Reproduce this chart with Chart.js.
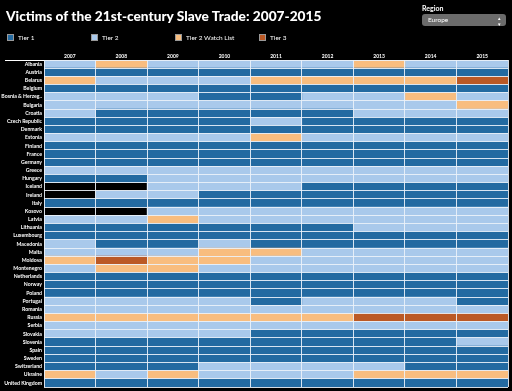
<!DOCTYPE html>
<html>
<head>
<meta charset="utf-8">
<script src="https://cdn.jsdelivr.net/npm/chart.js@4/dist/chart.umd.min.js"></script>
<style>
  html, body { margin:0; padding:0; background:#000; width:512px; height:391px; overflow:hidden; }
  body { position:relative; font-family: Lato, "Open Sans", sans-serif; color:#fff; }
  #title { position:absolute; left:6px; top:7px; font-size:13.7px; font-weight:900; white-space:nowrap; letter-spacing:0px; }
  .leg { position:absolute; top:34px; font-size:6.5px; line-height:7px; white-space:nowrap; }
  .sw { display:inline-block; width:5px; height:5px; border:1px solid #999; vertical-align:top; margin-right:4px; }
  #regLab { position:absolute; left:422px; top:4px; font-size:7px; font-weight:700; }
  #sel { position:absolute; left:422px; top:14px; width:84px; height:12px; background:#6b6b6b; border-radius:3px; font-size:6.5px; line-height:12px; }
  #sel span { position:absolute; left:6px; }
  #sel i { position:absolute; right:5px; top:0; font-style:normal; font-size:5px; line-height:6px; margin-top:1px; }
  #wrap { position:absolute; left:0; top:0; width:512px; height:391px; }
</style>
</head>
<body>
<div id="wrap"><canvas id="c" width="512" height="391"></canvas></div>
<div id="title">Victims of the 21st-century Slave Trade: 2007-2015</div>
<div id="legend"></div>
<div id="regLab">Region</div>
<div id="sel"><span>Europe</span><i>▴<br>▾</i></div>
<script>
const years = ['2007','2008','2009','2010','2011','2012','2013','2014','2015'];
const countries = ['Albania','Austria','Belarus','Belgium','Bosnia & Herzeg..','Bulgaria','Croatia','Czech Republic','Denmark','Estonia','Finland','France','Germany','Greece','Hungary','Iceland','Ireland','Italy','Kosovo','Latvia','Lithuania','Luxembourg','Macedonia','Malta','Moldova','Montenegro','Netherlands','Norway','Poland','Portugal','Romania','Russia','Serbia','Slovakia','Slovenia','Spain','Sweden','Switzerland','Ukraine','United Kingdom'];
const tierNames = ['Tier 1','Tier 2','Tier 2 Watch List','Tier 3'];
const tierColors = ['#236aa1','#a9c9eb','#f8bd7f','#bb5925'];
// tier codes: 1 = Tier 1, 2 = Tier 2, 'W' = Tier 2 Watch List, 3 = Tier 3, null = no data
const tiers = {
  'Albania':           [2,'W',2,2,2,2,'W',2,2],
  'Austria':           [1,1,1,1,1,1,1,1,1],
  'Belarus':           ['W',2,2,2,'W','W','W','W',3],
  'Belgium':           [1,1,1,1,1,1,1,1,1],
  'Bosnia & Herzeg..': [2,2,2,1,1,2,2,'W',2],
  'Bulgaria':          [2,2,2,2,2,2,2,2,'W'],
  'Croatia':           [2,1,1,1,1,1,2,2,2],
  'Czech Republic':    [1,1,1,1,2,1,1,1,1],
  'Denmark':           [1,1,1,1,1,1,1,1,1],
  'Estonia':           [2,2,2,2,'W',2,2,2,2],
  'Finland':           [1,1,1,1,1,1,1,1,1],
  'France':            [1,1,1,1,1,1,1,1,1],
  'Germany':           [1,1,1,1,1,1,1,1,1],
  'Greece':            [2,2,2,2,2,2,2,2,2],
  'Hungary':           [1,1,2,2,2,2,2,2,2],
  'Iceland':           [null,null,2,2,2,1,1,1,1],
  'Ireland':           [null,2,2,1,1,1,1,1,1],
  'Italy':             [1,1,1,1,1,1,1,1,1],
  'Kosovo':            [null,null,2,2,2,2,2,2,2],
  'Latvia':            [2,2,'W',2,2,2,2,2,2],
  'Lithuania':         [1,1,1,1,1,1,2,2,2],
  'Luxembourg':        [1,1,1,1,1,1,1,1,1],
  'Macedonia':         [2,1,1,2,1,1,1,1,1],
  'Malta':             [2,2,2,'W','W',2,2,2,2],
  'Moldova':           ['W',3,'W','W',2,2,2,2,2],
  'Montenegro':        [2,'W','W',2,2,2,2,2,2],
  'Netherlands':       [1,1,1,1,1,1,1,1,1],
  'Norway':            [1,1,1,1,1,1,1,1,1],
  'Poland':            [1,1,1,1,1,1,1,1,1],
  'Portugal':          [2,2,2,2,1,2,2,2,1],
  'Romania':           [2,2,2,2,2,2,2,2,2],
  'Russia':            ['W','W','W','W','W','W',3,3,3],
  'Serbia':            [2,2,2,2,2,2,2,2,2],
  'Slovakia':          [2,2,2,2,1,1,1,1,1],
  'Slovenia':          [1,1,1,1,1,1,1,1,2],
  'Spain':             [1,1,1,1,1,1,1,1,1],
  'Sweden':            [1,1,1,1,1,1,1,1,1],
  'Switzerland':       [1,1,1,2,2,2,2,1,1],
  'Ukraine':           ['W',2,'W',2,2,2,'W','W','W'],
  'United Kingdom':    [1,1,1,1,1,1,1,1,1]
};
const codeIndex = {1:0, 2:1, 'W':2, 3:3};

// HTML legend
const legend = document.getElementById('legend');
tierNames.forEach((n,i) => {
  const d = document.createElement('div');
  d.className = 'leg';
  d.style.left = (7 + i*84) + 'px';
  d.innerHTML = '<span class="sw" style="background:'+tierColors[i]+'"></span>' + n;
  legend.appendChild(d);
});

// one dataset per year; each cell is a floating bar spanning its year column
const datasets = years.map((yr, j) => ({
  label: yr,
  data: countries.map(c => tiers[c][j] == null ? null : [j, j + 1]),
  backgroundColor: countries.map(c => { const t = tiers[c][j]; return t == null ? 'rgba(0,0,0,0)' : tierColors[codeIndex[t]]; }),
  borderWidth: 0,
  barPercentage: 1,
  categoryPercentage: 1
}));

const gridCol = 'rgba(235,242,250,0.9)';
new Chart(document.getElementById('c'), {
  type: 'bar',
  data: { labels: countries, datasets },
  options: {
    indexAxis: 'y',
    responsive: false,
    animation: false,
    devicePixelRatio: 1,
    layout: { padding: { top: 46, bottom: 4, right: 4, left: 0 } },
    plugins: { legend: { display: false }, tooltip: { enabled: false }, title: { display: false } },
    scales: {
      x: {
        type: 'linear', position: 'top', min: 0, max: years.length,
        afterBuildTicks: s => { s.ticks = years.map((y,i) => ({ value: i + 0.5 })); },
        afterFit: s => { s.height = 14; },
        grid: { display: false, drawTicks: false },
        border: { display: false },
        ticks: { color: '#fff', font: { family: 'Lato', size: 5, weight: 'bold' }, padding: 1, maxRotation: 0, autoSkip: false,
                 callback: (v, i) => years[i] }
      },
      x2: {
        type: 'linear', position: 'top', min: 0, max: years.length,
        afterBuildTicks: s => { s.ticks = years.concat(['']).map((y,i) => ({ value: i })); },
        afterFit: s => { s.height = 0; },
        grid: { color: gridCol, lineWidth: 1, drawTicks: false, z: 1 },
        border: { display: false },
        ticks: { display: false }
      },
      y: {
        type: 'category', stacked: true, offset: true,
        afterFit: s => { s.width = 44; },
        grid: { offset: true, color: gridCol, lineWidth: 1, drawTicks: true, tickLength: 39, z: 1,
                tickColor: ctx => (ctx.index === 0 || ctx.index === countries.length) ? '#ffffff' : 'rgba(0,0,0,0)' },
        border: { display: false },
        ticks: { color: '#fff', font: { family: 'Lato', size: 5.2, weight: 'bold' }, padding: -37, autoSkip: false }
      }
    }
  }
});
</script>
</body>
</html>
